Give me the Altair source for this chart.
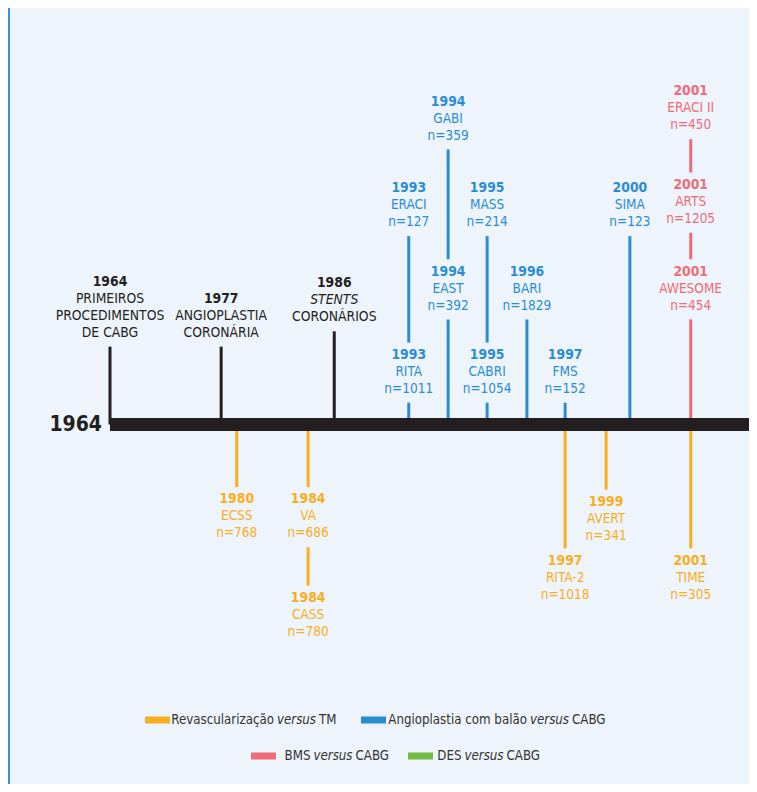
import altair as alt
import pandas as pd

# ------------------------------------------------------------------ data
categories = ["Marco histórico", "Revascularização versus TM",
              "Angioplastia com balão versus CABG", "BMS versus CABG", "DES versus CABG"]
category_colors = ["#231f20", "#f9ae1d", "#2a8dd3", "#f06a78", "#74bd44"]

event_year = [1964, 1977, 1986,
              1993, 1993, 1994, 1994, 1995, 1995, 1996, 1997, 2000,
              2001, 2001, 2001,
              1980, 1984, 1984, 1997, 1999, 2001]
event_name = ["PRIMEIROS|PROCEDIMENTOS|DE CABG", "ANGIOPLASTIA|CORONÁRIA", "_STENTS|CORONÁRIOS",
              "ERACI", "RITA", "GABI", "EAST", "MASS", "CABRI", "BARI", "FMS", "SIMA",
              "ERACI II", "ARTS", "AWESOME",
              "ECSS", "VA", "CASS", "RITA-2", "AVERT", "TIME"]
event_n = [None, None, None,
           127, 1011, 359, 392, 214, 1054, 1829, 152, 123,
           450, 1205, 454,
           768, 686, 780, 1018, 341, 305]
event_cat = [0, 0, 0,
             2, 2, 2, 2, 2, 2, 2, 2, 2,
             3, 3, 3,
             1, 1, 1, 1, 1, 1]
# position along the (non-proportional) timeline
event_slot = [0.0, 2.85, 5.75,
              7.66, 7.66, 8.67, 8.67, 9.67, 9.67, 10.69, 11.67, 13.33,
              14.89, 14.89, 14.89,
              3.25, 5.08, 5.08, 11.67, 12.72, 14.89]
# label height in text lines above (+) / below (-) the timeline
event_tier = [8.4, 7.4, 8.3,
              13.9, 4.1, 19.0, 9.0, 13.9, 4.1, 9.0, 4.1, 13.9,
              19.6, 14.1, 9.0,
              -4.4, -4.4, -10.2, -8.0, -4.55, -8.0]

start_label = "1964"

legend_cat = [1, 2, 3, 4]
legend_prefix = ["Revascularização", "Angioplastia com balão", "BMS", "DES"]
legend_mid = ["versus", "versus", "versus", "versus"]
legend_suffix = ["TM", "CABG", "CABG", "CABG"]

# ------------------------------------------------------------------ layout
REF_W, REF_H, MARGIN = 757, 792, 8
W, H = REF_W - 2 * MARGIN, REF_H - 2 * MARGIN
AXIS_X_PX, PX_PER_SLOT = 110, 39.0
AXIS_Y_PX, PX_PER_TIER = 424.5, 17.0


def sx(px):
    return (px - AXIS_X_PX) / PX_PER_SLOT


def ty(py):
    return (AXIS_Y_PX - py) / PX_PER_TIER


XMIN, XMAX = sx(MARGIN), sx(REF_W - MARGIN)
YMIN, YMAX = ty(REF_H - MARGIN), ty(MARGIN)

GAP_UNDER_TEXT = 0.82
GAP_OVER_TEXT = 0.72
FONT = "DejaVu Sans Condensed, DejaVu Sans, sans-serif"
BG = "#eef4fb"

# ------------------------------------------------------------------ derived tables
N = len(event_year)
nsub = [len(event_name[i].split("|")) + (1 if event_n[i] is not None else 0) for i in range(N)]

stems, texts = [], []
for i in range(N):
    t = event_tier[i]
    inner = [j for j in range(N) if j != i and event_slot[j] == event_slot[i]
             and (event_tier[j] > 0) == (t > 0) and abs(event_tier[j]) < abs(t)]
    near = max(inner, key=lambda j: abs(event_tier[j])) if inner else None
    if t > 0:
        top = t - nsub[i] - GAP_UNDER_TEXT
        bot = event_tier[near] + GAP_OVER_TEXT if near is not None else 0.0
    else:
        top = event_tier[near] - nsub[near] - GAP_UNDER_TEXT if near is not None else 0.0
        bot = t + GAP_OVER_TEXT
    cat = categories[event_cat[i]]
    stems.append({"x": event_slot[i], "y": top, "y2": bot, "cat": cat})

    texts.append({"x": event_slot[i], "y": t, "text": str(event_year[i]), "cat": cat, "kind": "year"})
    k = 1
    for line in event_name[i].split("|"):
        kind = "mline" if event_cat[i] == 0 else "line"
        if line.startswith("_"):
            kind, line = "italic", line[1:]
        texts.append({"x": event_slot[i], "y": t - k, "text": line, "cat": cat, "kind": kind})
        k += 1
    if event_n[i] is not None:
        texts.append({"x": event_slot[i], "y": t - k, "text": f"n={event_n[i]}", "cat": cat, "kind": "line"})

stems_df = pd.DataFrame(stems)
text_df = pd.DataFrame(texts)

bar_df = pd.DataFrame({"x": [0.0], "x2": [XMAX], "y": [0.0]})
border_df = pd.DataFrame({"x": [sx(MARGIN + 1)], "y": [YMIN], "y2": [YMAX]})
start_df = pd.DataFrame({"x": [sx(102)], "y": [0.0], "text": [start_label]})

# legend (custom, two centred rows)
LEG_SWATCH_LEFT_PX = [145, 361, 251, 408]
LEG_VERSUS_MID_PX = [296.5, 549.5, 333, 484]
LEG_ROW_PX = [720, 720, 756, 756]
VERSUS_HALF = 19.0
leg_sw, leg_txt = [], []
for i in range(len(legend_cat)):
    c = categories[legend_cat[i]]
    yy = ty(LEG_ROW_PX[i])
    leg_sw.append({"x": sx(LEG_SWATCH_LEFT_PX[i]), "x2": sx(LEG_SWATCH_LEFT_PX[i] + 25), "y": yy, "cat": c})
    m = LEG_VERSUS_MID_PX[i]
    leg_txt.append({"x": sx(m - VERSUS_HALF - 3.5), "y": yy, "text": legend_prefix[i], "kind": "pre"})
    leg_txt.append({"x": sx(m), "y": yy, "text": legend_mid[i], "kind": "mid"})
    leg_txt.append({"x": sx(m + VERSUS_HALF + 3.5), "y": yy, "text": legend_suffix[i], "kind": "suf"})
leg_sw_df = pd.DataFrame(leg_sw)
leg_txt_df = pd.DataFrame(leg_txt)

# ------------------------------------------------------------------ chart
xs = alt.Scale(domain=[XMIN, XMAX], nice=False, zero=False)
ys = alt.Scale(domain=[YMIN, YMAX], nice=False, zero=False)
cs = alt.Scale(domain=categories, range=category_colors)
X = alt.X("x:Q", scale=xs, axis=None)
Y = alt.Y("y:Q", scale=ys, axis=None)
C = alt.Color("cat:N", scale=cs, legend=None)

border = alt.Chart(border_df).mark_rule(color="#3b92d4", strokeWidth=2).encode(x=X, y=Y, y2="y2:Q")
stem_layer = alt.Chart(stems_df).mark_rule(strokeWidth=3).encode(x=X, y=Y, y2="y2:Q", color=C)
bar = alt.Chart(bar_df).mark_rule(color="#231f20", strokeWidth=13, strokeCap="butt").encode(x=X, x2="x2:Q", y=Y)
start = alt.Chart(start_df).mark_text(font=FONT, fontWeight="bold", fontSize=21,
                                      align="right", baseline="middle", color="#231f20").encode(
    x=X, y=Y, text="text:N")


def text_layer(kind, **kw):
    return alt.Chart(text_df).transform_filter(alt.datum.kind == kind).mark_text(
        font=FONT, align="center", baseline="middle", **kw).encode(x=X, y=Y, text="text:N", color=C)


years = text_layer("year", fontWeight="bold", fontSize=13.8)
lines = text_layer("line", fontSize=13.5)
mlines = text_layer("mline", fontSize=13.8)
italics = text_layer("italic", fontSize=13.8, fontStyle="italic")

leg_swatch = alt.Chart(leg_sw_df).mark_rule(strokeWidth=7, strokeCap="butt").encode(
    x=X, x2="x2:Q", y=Y, color=C)
LEG_COL = "#333333"
LEG_SIZE = 13.2
leg_pre = alt.Chart(leg_txt_df).transform_filter(alt.datum.kind == "pre").mark_text(
    font=FONT, fontSize=LEG_SIZE, align="right", baseline="middle", color=LEG_COL).encode(
    x=X, y=Y, text="text:N")
leg_mid = alt.Chart(leg_txt_df).transform_filter(alt.datum.kind == "mid").mark_text(
    font=FONT, fontSize=LEG_SIZE, fontStyle="italic", align="center", baseline="middle",
    color=LEG_COL).encode(x=X, y=Y, text="text:N")
leg_suf = alt.Chart(leg_txt_df).transform_filter(alt.datum.kind == "suf").mark_text(
    font=FONT, fontSize=LEG_SIZE, align="left", baseline="middle", color=LEG_COL).encode(
    x=X, y=Y, text="text:N")

chart = alt.layer(border, stem_layer, bar, start, years, lines, mlines, italics,
                  leg_swatch, leg_pre, leg_mid, leg_suf).properties(
    width=W, height=H, padding=0, autosize="none", background=BG,
).configure_view(strokeWidth=0)

chart.save("out.html", embed_options={"renderer": "svg", "actions": False})
